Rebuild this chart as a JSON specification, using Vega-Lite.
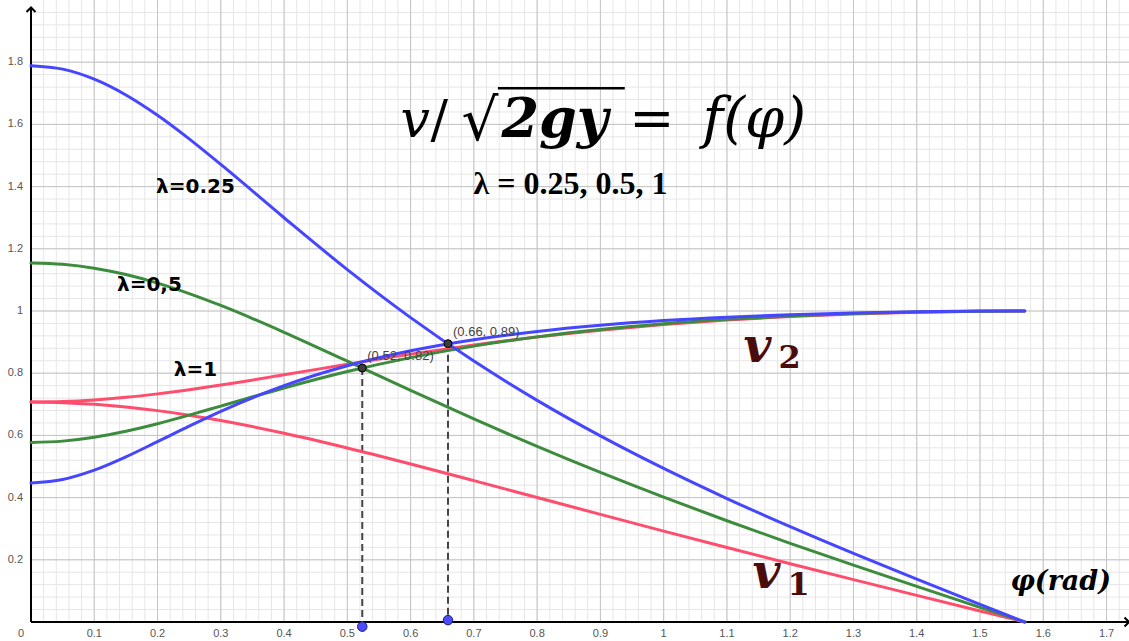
{
  "$schema": "https://vega.github.io/schema/vega-lite/v6.json",
  "width": 1098,
  "height": 622,
  "autosize": "none",
  "padding": {"left": 31, "top": 0, "right": 0, "bottom": 19},
  "background": "white",
  "config": {"view": {"stroke": null}, "axis": {"disable": true}},
  "data": {"values": [{}]},
  "datasets": {
    "xgrid": [
      {"t": 0.02}, {"t": 0.04}, {"t": 0.06}, {"t": 0.08}, {"t": 0.1}, {"t": 0.12}, {"t": 0.14}, {"t": 0.16}, {"t": 0.18}, {"t": 0.2},
      {"t": 0.22}, {"t": 0.24}, {"t": 0.26}, {"t": 0.28}, {"t": 0.3}, {"t": 0.32}, {"t": 0.34}, {"t": 0.36}, {"t": 0.38}, {"t": 0.4},
      {"t": 0.42}, {"t": 0.44}, {"t": 0.46}, {"t": 0.48}, {"t": 0.5}, {"t": 0.52}, {"t": 0.54}, {"t": 0.56}, {"t": 0.58}, {"t": 0.6},
      {"t": 0.62}, {"t": 0.64}, {"t": 0.66}, {"t": 0.68}, {"t": 0.7}, {"t": 0.72}, {"t": 0.74}, {"t": 0.76}, {"t": 0.78}, {"t": 0.8},
      {"t": 0.82}, {"t": 0.84}, {"t": 0.86}, {"t": 0.88}, {"t": 0.9}, {"t": 0.92}, {"t": 0.94}, {"t": 0.96}, {"t": 0.98}, {"t": 1},
      {"t": 1.02}, {"t": 1.04}, {"t": 1.06}, {"t": 1.08}, {"t": 1.1}, {"t": 1.12}, {"t": 1.14}, {"t": 1.16}, {"t": 1.18}, {"t": 1.2},
      {"t": 1.22}, {"t": 1.24}, {"t": 1.26}, {"t": 1.28}, {"t": 1.3}, {"t": 1.32}, {"t": 1.34}, {"t": 1.36}, {"t": 1.38}, {"t": 1.4},
      {"t": 1.42}, {"t": 1.44}, {"t": 1.46}, {"t": 1.48}, {"t": 1.5}, {"t": 1.52}, {"t": 1.54}, {"t": 1.56}, {"t": 1.58}, {"t": 1.6},
      {"t": 1.62}, {"t": 1.64}, {"t": 1.66}, {"t": 1.68}, {"t": 1.7}, {"t": 1.72}
    ],
    "ygrid": [
      {"t": 0.04}, {"t": 0.08}, {"t": 0.12}, {"t": 0.16}, {"t": 0.2}, {"t": 0.24}, {"t": 0.28}, {"t": 0.32}, {"t": 0.36}, {"t": 0.4},
      {"t": 0.44}, {"t": 0.48}, {"t": 0.52}, {"t": 0.56}, {"t": 0.6}, {"t": 0.64}, {"t": 0.68}, {"t": 0.72}, {"t": 0.76}, {"t": 0.8},
      {"t": 0.84}, {"t": 0.88}, {"t": 0.92}, {"t": 0.96}, {"t": 1}, {"t": 1.04}, {"t": 1.08}, {"t": 1.12}, {"t": 1.16}, {"t": 1.2},
      {"t": 1.24}, {"t": 1.28}, {"t": 1.32}, {"t": 1.36}, {"t": 1.4}, {"t": 1.44}, {"t": 1.48}, {"t": 1.52}, {"t": 1.56}, {"t": 1.6},
      {"t": 1.64}, {"t": 1.68}, {"t": 1.72}, {"t": 1.76}, {"t": 1.8}, {"t": 1.84}, {"t": 1.88}, {"t": 1.92}, {"t": 1.96}
    ],
    "curves": [
      {"phi": 0, "v": 0.7071, "lam": "1", "curve": "1-v1"},
      {"phi": 0.05, "v": 0.7053, "lam": "1", "curve": "1-v1"},
      {"phi": 0.1, "v": 0.7001, "lam": "1", "curve": "1-v1"},
      {"phi": 0.15, "v": 0.6915, "lam": "1", "curve": "1-v1"},
      {"phi": 0.2, "v": 0.6797, "lam": "1", "curve": "1-v1"},
      {"phi": 0.25, "v": 0.6651, "lam": "1", "curve": "1-v1"},
      {"phi": 0.3, "v": 0.6478, "lam": "1", "curve": "1-v1"},
      {"phi": 0.4, "v": 0.6069, "lam": "1", "curve": "1-v1"},
      {"phi": 0.5, "v": 0.5596, "lam": "1", "curve": "1-v1"},
      {"phi": 0.6, "v": 0.5082, "lam": "1", "curve": "1-v1"},
      {"phi": 0.7, "v": 0.4547, "lam": "1", "curve": "1-v1"},
      {"phi": 0.8, "v": 0.4003, "lam": "1", "curve": "1-v1"},
      {"phi": 0.9, "v": 0.346, "lam": "1", "curve": "1-v1"},
      {"phi": 1.0, "v": 0.2923, "lam": "1", "curve": "1-v1"},
      {"phi": 1.1, "v": 0.2395, "lam": "1", "curve": "1-v1"},
      {"phi": 1.2, "v": 0.1874, "lam": "1", "curve": "1-v1"},
      {"phi": 1.3, "v": 0.1362, "lam": "1", "curve": "1-v1"},
      {"phi": 1.4, "v": 0.0856, "lam": "1", "curve": "1-v1"},
      {"phi": 1.5, "v": 0.0354, "lam": "1", "curve": "1-v1"},
      {"phi": 1.5708, "v": 0, "lam": "1", "curve": "1-v1"},
      {"phi": 0, "v": 0.7071, "lam": "1", "curve": "1-v2"},
      {"phi": 0.05, "v": 0.7089, "lam": "1", "curve": "1-v2"},
      {"phi": 0.1, "v": 0.7141, "lam": "1", "curve": "1-v2"},
      {"phi": 0.15, "v": 0.7224, "lam": "1", "curve": "1-v2"},
      {"phi": 0.2, "v": 0.7335, "lam": "1", "curve": "1-v2"},
      {"phi": 0.25, "v": 0.7468, "lam": "1", "curve": "1-v2"},
      {"phi": 0.3, "v": 0.7618, "lam": "1", "curve": "1-v2"},
      {"phi": 0.4, "v": 0.7948, "lam": "1", "curve": "1-v2"},
      {"phi": 0.5, "v": 0.8288, "lam": "1", "curve": "1-v2"},
      {"phi": 0.6, "v": 0.8613, "lam": "1", "curve": "1-v2"},
      {"phi": 0.7, "v": 0.8907, "lam": "1", "curve": "1-v2"},
      {"phi": 0.8, "v": 0.9164, "lam": "1", "curve": "1-v2"},
      {"phi": 0.9, "v": 0.9382, "lam": "1", "curve": "1-v2"},
      {"phi": 1.0, "v": 0.9563, "lam": "1", "curve": "1-v2"},
      {"phi": 1.1, "v": 0.9709, "lam": "1", "curve": "1-v2"},
      {"phi": 1.2, "v": 0.9823, "lam": "1", "curve": "1-v2"},
      {"phi": 1.3, "v": 0.9907, "lam": "1", "curve": "1-v2"},
      {"phi": 1.4, "v": 0.9963, "lam": "1", "curve": "1-v2"},
      {"phi": 1.5, "v": 0.9994, "lam": "1", "curve": "1-v2"},
      {"phi": 1.5708, "v": 1, "lam": "1", "curve": "1-v2"},
      {"phi": 0, "v": 1.1547, "lam": "0.5", "curve": "0.5-v1"},
      {"phi": 0.05, "v": 1.1504, "lam": "0.5", "curve": "0.5-v1"},
      {"phi": 0.1, "v": 1.1377, "lam": "0.5", "curve": "0.5-v1"},
      {"phi": 0.15, "v": 1.1171, "lam": "0.5", "curve": "0.5-v1"},
      {"phi": 0.2, "v": 1.0895, "lam": "0.5", "curve": "0.5-v1"},
      {"phi": 0.25, "v": 1.056, "lam": "0.5", "curve": "0.5-v1"},
      {"phi": 0.3, "v": 1.0178, "lam": "0.5", "curve": "0.5-v1"},
      {"phi": 0.4, "v": 0.9316, "lam": "0.5", "curve": "0.5-v1"},
      {"phi": 0.5, "v": 0.8387, "lam": "0.5", "curve": "0.5-v1"},
      {"phi": 0.6, "v": 0.7447, "lam": "0.5", "curve": "0.5-v1"},
      {"phi": 0.7, "v": 0.6529, "lam": "0.5", "curve": "0.5-v1"},
      {"phi": 0.8, "v": 0.5648, "lam": "0.5", "curve": "0.5-v1"},
      {"phi": 0.9, "v": 0.481, "lam": "0.5", "curve": "0.5-v1"},
      {"phi": 1.0, "v": 0.4014, "lam": "0.5", "curve": "0.5-v1"},
      {"phi": 1.1, "v": 0.3256, "lam": "0.5", "curve": "0.5-v1"},
      {"phi": 1.2, "v": 0.2529, "lam": "0.5", "curve": "0.5-v1"},
      {"phi": 1.3, "v": 0.1827, "lam": "0.5", "curve": "0.5-v1"},
      {"phi": 1.4, "v": 0.1144, "lam": "0.5", "curve": "0.5-v1"},
      {"phi": 1.5, "v": 0.0472, "lam": "0.5", "curve": "0.5-v1"},
      {"phi": 1.5708, "v": 0, "lam": "0.5", "curve": "0.5-v1"},
      {"phi": 0, "v": 0.5774, "lam": "0.5", "curve": "0.5-v2"},
      {"phi": 0.05, "v": 0.5816, "lam": "0.5", "curve": "0.5-v2"},
      {"phi": 0.1, "v": 0.594, "lam": "0.5", "curve": "0.5-v2"},
      {"phi": 0.15, "v": 0.6133, "lam": "0.5", "curve": "0.5-v2"},
      {"phi": 0.2, "v": 0.6376, "lam": "0.5", "curve": "0.5-v2"},
      {"phi": 0.25, "v": 0.6651, "lam": "0.5", "curve": "0.5-v2"},
      {"phi": 0.3, "v": 0.6943, "lam": "0.5", "curve": "0.5-v2"},
      {"phi": 0.4, "v": 0.7524, "lam": "0.5", "curve": "0.5-v2"},
      {"phi": 0.5, "v": 0.8052, "lam": "0.5", "curve": "0.5-v2"},
      {"phi": 0.6, "v": 0.8501, "lam": "0.5", "curve": "0.5-v2"},
      {"phi": 0.7, "v": 0.8871, "lam": "0.5", "curve": "0.5-v2"},
      {"phi": 0.8, "v": 0.9168, "lam": "0.5", "curve": "0.5-v2"},
      {"phi": 0.9, "v": 0.9404, "lam": "0.5", "curve": "0.5-v2"},
      {"phi": 1.0, "v": 0.9589, "lam": "0.5", "curve": "0.5-v2"},
      {"phi": 1.1, "v": 0.9731, "lam": "0.5", "curve": "0.5-v2"},
      {"phi": 1.2, "v": 0.9839, "lam": "0.5", "curve": "0.5-v2"},
      {"phi": 1.3, "v": 0.9916, "lam": "0.5", "curve": "0.5-v2"},
      {"phi": 1.4, "v": 0.9967, "lam": "0.5", "curve": "0.5-v2"},
      {"phi": 1.5, "v": 0.9994, "lam": "0.5", "curve": "0.5-v2"},
      {"phi": 1.5708, "v": 1, "lam": "0.5", "curve": "0.5-v2"},
      {"phi": 0, "v": 1.7889, "lam": "0.25", "curve": "0.25-v1"},
      {"phi": 0.05, "v": 1.7778, "lam": "0.25", "curve": "0.25-v1"},
      {"phi": 0.1, "v": 1.7455, "lam": "0.25", "curve": "0.25-v1"},
      {"phi": 0.15, "v": 1.6947, "lam": "0.25", "curve": "0.25-v1"},
      {"phi": 0.2, "v": 1.6293, "lam": "0.25", "curve": "0.25-v1"},
      {"phi": 0.25, "v": 1.5535, "lam": "0.25", "curve": "0.25-v1"},
      {"phi": 0.3, "v": 1.4712, "lam": "0.25", "curve": "0.25-v1"},
      {"phi": 0.4, "v": 1.2999, "lam": "0.25", "curve": "0.25-v1"},
      {"phi": 0.5, "v": 1.1331, "lam": "0.25", "curve": "0.25-v1"},
      {"phi": 0.6, "v": 0.9788, "lam": "0.25", "curve": "0.25-v1"},
      {"phi": 0.7, "v": 0.8389, "lam": "0.25", "curve": "0.25-v1"},
      {"phi": 0.8, "v": 0.7127, "lam": "0.25", "curve": "0.25-v1"},
      {"phi": 0.9, "v": 0.5983, "lam": "0.25", "curve": "0.25-v1"},
      {"phi": 1.0, "v": 0.4937, "lam": "0.25", "curve": "0.25-v1"},
      {"phi": 1.1, "v": 0.397, "lam": "0.25", "curve": "0.25-v1"},
      {"phi": 1.2, "v": 0.3064, "lam": "0.25", "curve": "0.25-v1"},
      {"phi": 1.3, "v": 0.2204, "lam": "0.25", "curve": "0.25-v1"},
      {"phi": 1.4, "v": 0.1376, "lam": "0.25", "curve": "0.25-v1"},
      {"phi": 1.5, "v": 0.0567, "lam": "0.25", "curve": "0.25-v1"},
      {"phi": 1.5708, "v": 0, "lam": "0.25", "curve": "0.25-v1"},
      {"phi": 0, "v": 0.4472, "lam": "0.25", "curve": "0.25-v2"},
      {"phi": 0.05, "v": 0.4581, "lam": "0.25", "curve": "0.25-v2"},
      {"phi": 0.1, "v": 0.4882, "lam": "0.25", "curve": "0.25-v2"},
      {"phi": 0.15, "v": 0.531, "lam": "0.25", "curve": "0.25-v2"},
      {"phi": 0.2, "v": 0.58, "lam": "0.25", "curve": "0.25-v2"},
      {"phi": 0.25, "v": 0.6298, "lam": "0.25", "curve": "0.25-v2"},
      {"phi": 0.3, "v": 0.6774, "lam": "0.25", "curve": "0.25-v2"},
      {"phi": 0.4, "v": 0.76, "lam": "0.25", "curve": "0.25-v2"},
      {"phi": 0.5, "v": 0.824, "lam": "0.25", "curve": "0.25-v2"},
      {"phi": 0.6, "v": 0.8721, "lam": "0.25", "curve": "0.25-v2"},
      {"phi": 0.7, "v": 0.9078, "lam": "0.25", "curve": "0.25-v2"},
      {"phi": 0.8, "v": 0.9344, "lam": "0.25", "curve": "0.25-v2"},
      {"phi": 0.9, "v": 0.9542, "lam": "0.25", "curve": "0.25-v2"},
      {"phi": 1.0, "v": 0.9691, "lam": "0.25", "curve": "0.25-v2"},
      {"phi": 1.1, "v": 0.9801, "lam": "0.25", "curve": "0.25-v2"},
      {"phi": 1.2, "v": 0.9882, "lam": "0.25", "curve": "0.25-v2"},
      {"phi": 1.3, "v": 0.9939, "lam": "0.25", "curve": "0.25-v2"},
      {"phi": 1.4, "v": 0.9976, "lam": "0.25", "curve": "0.25-v2"},
      {"phi": 1.5, "v": 0.9996, "lam": "0.25", "curve": "0.25-v2"},
      {"phi": 1.5708, "v": 1, "lam": "0.25", "curve": "0.25-v2"}
    ],
    "crossings": [
      {"phi": 0.5236, "v": 0.8165, "v0": -0.015},
      {"phi": 0.6591, "v": 0.8949, "v0": 0.006}
    ]
  },
  "layer": [
    {
      "data": {"name": "xgrid"},
      "mark": {"type": "rule", "color": "#e6e6e6", "strokeWidth": 1},
      "encoding": {
        "x": {"field": "t", "type": "quantitative", "scale": {"domain": [0, 1.7355], "nice": false, "zero": false}}
      }
    },
    {
      "data": {"name": "ygrid"},
      "mark": {"type": "rule", "color": "#e6e6e6", "strokeWidth": 1},
      "encoding": {
        "y": {"field": "t", "type": "quantitative", "scale": {"domain": [0, 2.0], "nice": false, "zero": false}}
      }
    },
    {
      "data": {"name": "xgrid"},
      "transform": [{"filter": "abs(datum.t*10-round(datum.t*10))<1e-6"}],
      "mark": {"type": "rule", "color": "#c4c4c4", "strokeWidth": 1},
      "encoding": {"x": {"field": "t", "type": "quantitative"}}
    },
    {
      "data": {"name": "ygrid"},
      "transform": [{"filter": "abs(datum.t*5-round(datum.t*5))<1e-6"}],
      "mark": {"type": "rule", "color": "#c4c4c4", "strokeWidth": 1},
      "encoding": {"y": {"field": "t", "type": "quantitative"}}
    },
    {
      "data": {"name": "xgrid"},
      "transform": [
        {"filter": "abs(datum.t*10-round(datum.t*10))<1e-6"},
        {"calculate": "format(datum.t, '~g')", "as": "lbl"}
      ],
      "mark": {"type": "text", "font": "Liberation Sans", "fontSize": 11, "color": "#555555", "align": "center", "baseline": "middle", "dy": 12},
      "encoding": {"x": {"field": "t", "type": "quantitative"}, "y": {"datum": 0}, "text": {"field": "lbl"}}
    },
    {
      "data": {"name": "ygrid"},
      "transform": [
        {"filter": "abs(datum.t*5-round(datum.t*5))<1e-6 && datum.t<1.9"},
        {"calculate": "format(datum.t, '~g')", "as": "lbl"}
      ],
      "mark": {"type": "text", "font": "Liberation Sans", "fontSize": 11, "color": "#555555", "align": "right", "baseline": "middle", "dx": -8},
      "encoding": {"x": {"datum": 0}, "y": {"field": "t", "type": "quantitative"}, "text": {"field": "lbl"}}
    },
    {
      "mark": {"type": "text", "font": "Liberation Sans", "fontSize": 11, "color": "#555555", "dx": -10, "dy": 12, "align": "center", "baseline": "middle"},
      "encoding": {"x": {"datum": 0}, "y": {"datum": 0}, "text": {"value": "0"}}
    },
    {
      "mark": {"type": "rule", "color": "black", "strokeWidth": 2},
      "encoding": {"x": {"datum": 0}, "y": {"datum": 0}, "y2": {"datum": 1.976}}
    },
    {
      "mark": {"type": "rule", "color": "black", "strokeWidth": 2},
      "encoding": {"x": {"datum": 0}, "x2": {"datum": 1.7355}, "y": {"datum": 0}}
    },
    {
      "mark": {"type": "point", "shape": "M-1,1L0,0L1,1", "size": 81, "filled": false, "stroke": "black", "strokeWidth": 2, "opacity": 1},
      "encoding": {"x": {"datum": 0}, "y": {"datum": 1.976}}
    },
    {
      "mark": {"type": "point", "shape": "M-1,-1L0,0L-1,1", "size": 81, "filled": false, "stroke": "black", "strokeWidth": 2, "opacity": 1},
      "encoding": {"x": {"datum": 1.7355}, "y": {"datum": 0}}
    },
    {
      "data": {"name": "crossings"},
      "mark": {"type": "rule", "color": "#444444", "strokeWidth": 2, "strokeDash": [7, 4]},
      "encoding": {"x": {"field": "phi", "type": "quantitative"}, "y": {"field": "v", "type": "quantitative"}, "y2": {"field": "v0"}}
    },
    {
      "data": {"name": "curves"},
      "mark": {"type": "line", "interpolate": "monotone", "strokeWidth": 3, "strokeCap": "round"},
      "encoding": {
        "x": {"field": "phi", "type": "quantitative"},
        "y": {"field": "v", "type": "quantitative"},
        "color": {"field": "lam", "type": "nominal", "scale": {"domain": ["1", "0.5", "0.25"], "range": ["#ff4d6d", "#3d8b3d", "#4646ff"]}, "legend": null},
        "detail": {"field": "curve"}
      }
    },
    {
      "data": {"name": "crossings"},
      "mark": {"type": "point", "filled": true, "size": 64, "fill": "#3c3c3c", "stroke": "#000000", "strokeWidth": 1, "opacity": 1},
      "encoding": {"x": {"field": "phi", "type": "quantitative"}, "y": {"field": "v", "type": "quantitative"}}
    },
    {
      "data": {"name": "crossings"},
      "mark": {"type": "point", "filled": true, "size": 90, "fill": "#4d4dff", "stroke": "#1a1a6e", "strokeWidth": 1, "opacity": 1},
      "encoding": {"x": {"field": "phi", "type": "quantitative"}, "y": {"field": "v0", "type": "quantitative"}}
    },
    {
      "data": {"name": "crossings"},
      "transform": [{"calculate": "'(' + format(datum.phi, '.2f') + ', ' + format(datum.v, '.2f') + ')'", "as": "label"}],
      "mark": {"type": "text", "font": "Liberation Sans", "fontSize": 13, "color": "#444444", "align": "left", "baseline": "alphabetic", "dx": 5, "dy": -8},
      "encoding": {"x": {"field": "phi", "type": "quantitative"}, "y": {"field": "v", "type": "quantitative"}, "text": {"field": "label"}}
    },
    {
      "mark": {"type": "text", "font": "DejaVu Sans", "fontWeight": "bold", "fontSize": 20, "color": "black", "align": "center", "baseline": "alphabetic"},
      "encoding": {"x": {"datum": 0.26}, "y": {"datum": 1.378}, "text": {"value": "λ=0.25"}}
    },
    {
      "mark": {"type": "text", "font": "DejaVu Sans", "fontWeight": "bold", "fontSize": 20, "color": "black", "align": "center", "baseline": "alphabetic"},
      "encoding": {"x": {"datum": 0.1872}, "y": {"datum": 1.0637}, "text": {"value": "λ=0,5"}}
    },
    {
      "mark": {"type": "text", "font": "DejaVu Sans", "fontWeight": "bold", "fontSize": 20, "color": "black", "align": "center", "baseline": "alphabetic"},
      "encoding": {"x": {"datum": 0.26}, "y": {"datum": 0.79}, "text": {"value": "λ=1"}}
    },
    {
      "mark": {"type": "text", "font": "DejaVu Serif", "fontStyle": "italic", "fontSize": 52, "color": "black", "align": "left", "baseline": "alphabetic"},
      "encoding": {"x": {"datum": 0.584}, "y": {"datum": 1.561}, "text": {"value": "v"}}
    },
    {
      "mark": {"type": "text", "font": "DejaVu Serif", "fontSize": 52, "color": "black", "align": "left", "baseline": "alphabetic"},
      "encoding": {"x": {"datum": 0.6314}, "y": {"datum": 1.561}, "text": {"value": "/"}}
    },
    {
      "mark": {"type": "text", "font": "DejaVu Serif", "fontSize": 58, "color": "black", "align": "left", "baseline": "alphabetic"},
      "encoding": {"x": {"datum": 0.6805}, "y": {"datum": 1.549}, "text": {"value": "√"}}
    },
    {
      "mark": {"type": "rule", "color": "black", "strokeWidth": 2.5},
      "encoding": {"x": {"datum": 0.738}, "x2": {"datum": 0.9385}, "y": {"datum": 1.716}}
    },
    {
      "mark": {"type": "text", "font": "DejaVu Serif", "fontStyle": "italic", "fontWeight": "bold", "fontSize": 54, "color": "black", "align": "left", "baseline": "alphabetic"},
      "encoding": {"x": {"datum": 0.7435}, "y": {"datum": 1.561}, "text": {"value": "2gy"}}
    },
    {
      "mark": {"type": "text", "font": "DejaVu Serif", "fontSize": 54, "color": "black", "align": "left", "baseline": "alphabetic"},
      "encoding": {"x": {"datum": 0.9455}, "y": {"datum": 1.561}, "text": {"value": "="}}
    },
    {
      "mark": {"type": "text", "font": "DejaVu Serif", "fontStyle": "italic", "fontSize": 56, "color": "black", "align": "left", "baseline": "alphabetic"},
      "encoding": {"x": {"datum": 1.0613}, "y": {"datum": 1.561}, "text": {"value": "f(φ)"}}
    },
    {
      "mark": {"type": "text", "font": "Liberation Serif", "fontWeight": "bold", "fontSize": 32, "color": "black", "align": "left", "baseline": "alphabetic"},
      "encoding": {"x": {"datum": 0.6994}, "y": {"datum": 1.3746}, "text": {"value": "λ = 0.25, 0.5, 1"}}
    },
    {
      "mark": {"type": "text", "font": "DejaVu Serif", "fontStyle": "italic", "fontWeight": "bold", "fontSize": 48, "color": "#4a0d0d", "align": "left", "baseline": "alphabetic"},
      "encoding": {"x": {"datum": 1.1261}, "y": {"datum": 0.8376}, "text": {"value": "v"}}
    },
    {
      "mark": {"type": "text", "font": "DejaVu Serif", "fontWeight": "bold", "fontSize": 32, "color": "#4a0d0d", "align": "left", "baseline": "alphabetic"},
      "encoding": {"x": {"datum": 1.1815}, "y": {"datum": 0.8183}, "text": {"value": "2"}}
    },
    {
      "mark": {"type": "text", "font": "DejaVu Serif", "fontStyle": "italic", "fontWeight": "bold", "fontSize": 48, "color": "#4a0d0d", "align": "left", "baseline": "alphabetic"},
      "encoding": {"x": {"datum": 1.1404}, "y": {"datum": 0.1109}, "text": {"value": "v"}}
    },
    {
      "mark": {"type": "text", "font": "DejaVu Serif", "fontWeight": "bold", "fontSize": 32, "color": "#4a0d0d", "align": "left", "baseline": "alphabetic"},
      "encoding": {"x": {"datum": 1.1957}, "y": {"datum": 0.0884}, "text": {"value": "1"}}
    },
    {
      "mark": {"type": "text", "font": "DejaVu Serif", "fontStyle": "italic", "fontWeight": "bold", "fontSize": 27, "color": "black", "align": "left", "baseline": "alphabetic"},
      "encoding": {"x": {"datum": 1.5481}, "y": {"datum": 0.1045}, "text": {"value": "φ(rad)"}}
    }
  ]
}
